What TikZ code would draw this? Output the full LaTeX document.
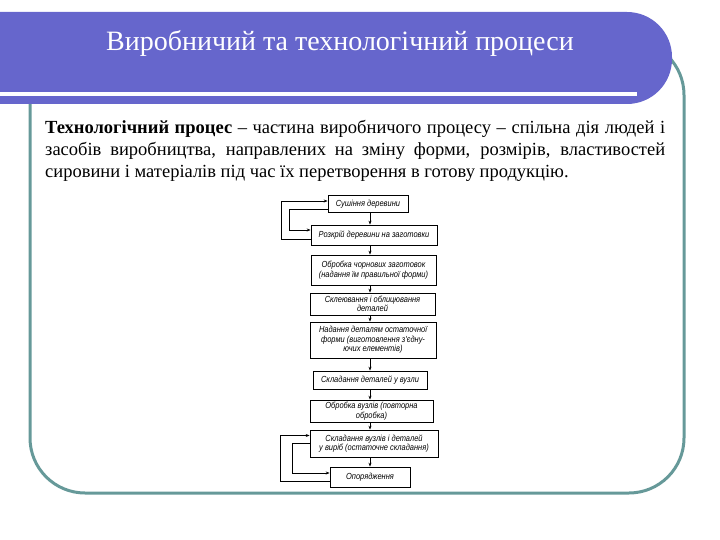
\documentclass[tikz,border=0pt]{standalone}
\usepackage{fontspec}
\setmainfont{Liberation Serif}
\newfontfamily\boxfont[FakeStretch=0.85]{Liberation Sans}
\usepackage{tikz}
\usetikzlibrary{positioning,arrows.meta}
\definecolor{bannerblue}{RGB}{102,102,204}
\definecolor{frameteal}{RGB}{102,153,153}

\begin{document}
\begin{tikzpicture}[x=1pt, y=-1pt,
  stage/.style={draw, line width=0.7pt, align=center, inner sep=1pt,
    font=\boxfont\itshape\fontsize{8.8}{9.6}\selectfont},
  flow/.style={line width=0.7pt, -{Stealth[length=4pt,width=3pt]}}]

  \useasboundingbox (0,0) rectangle (720,540);

  \draw[frameteal, line width=3pt, rounded corners=55pt] (30,40) rectangle (684,493);
  \fill[bannerblue, rounded corners=45pt] (-60,12) rectangle (672,104);
  \fill[white] (-1,92) rectangle (637,96);
  \node[text=white, font=\fontsize{28}{32}\selectfont] (title) at (340,43) {Виробничий та технологічний процеси};

  \node[anchor=north west, text width=620pt, align=justify, inner sep=0pt,
    font=\fontsize{18.5}{22}\selectfont] (def) at (45,120)
    {\textbf{Технологічний процес} – частина виробничого процесу – спільна дія людей і\linebreak
     засобів виробництва, направлених на зміну форми, розмірів, властивостей\linebreak
     сировини і матеріалів під час їх перетворення в готову продукцію.};

  \node [stage, minimum width=80pt, minimum height=17pt] (s1) at (368,204) {Сушіння деревини};
  \node [stage, minimum width=126pt, minimum height=20pt] (s2) at (374,235) {Розкрій деревини на заготовки};
  \node [stage, minimum width=125pt, minimum height=30pt] (s3) at (373.5,270) {Обробка чорнових заготовок\\(надання їм правильної форми)};
  \node [stage, minimum width=125pt, minimum height=22pt] (s4) at (372.5,304) {Склеювання і облицювання\\деталей};
  \node [stage, minimum width=126pt, minimum height=36pt] (s5) at (373,340) {Надання деталям остаточної\\форми (виготовлення з'єдну-\\ючих елементів)};
  \node [stage, minimum width=114pt, minimum height=18pt] (s6) at (370,380) {Складання деталей у вузли};
  \node [stage, minimum width=123pt, minimum height=22pt] (s7) at (371.5,411) {Обробка вузлів (повторна\\обробка)};
  \node [stage, minimum width=128pt, minimum height=27pt] (s8) at (374,443.5) {Складання вузлів і деталей\\у виріб (остаточне складання)};
  \node [stage, minimum width=80pt, minimum height=20pt] (s9) at (370,477) {Опорядження};

  \foreach \a/\b in {s1/s2, s2/s3, s3/s4, s4/s5, s5/s6, s6/s7, s7/s8, s8/s9}
    \draw[flow] (\a.south -| s6) -- (\b.north -| s6);

  \draw[flow] ([yshift=-4pt]s2.west) -- ++(-29,0) |- ([yshift=3pt]s1.west);
  \draw[flow] ([yshift=-5pt]s1.west) -- ++(-38,0) |- ([yshift=5pt]s2.west);
  \draw[flow] ([yshift=-4pt]s9.west) -- ++(-49,0) |- ([yshift=8pt]s8.west);
  \draw[flow] (s8.west) -- ++(-17,0) |- ([yshift=4pt]s9.west);

\end{tikzpicture}
\end{document}
